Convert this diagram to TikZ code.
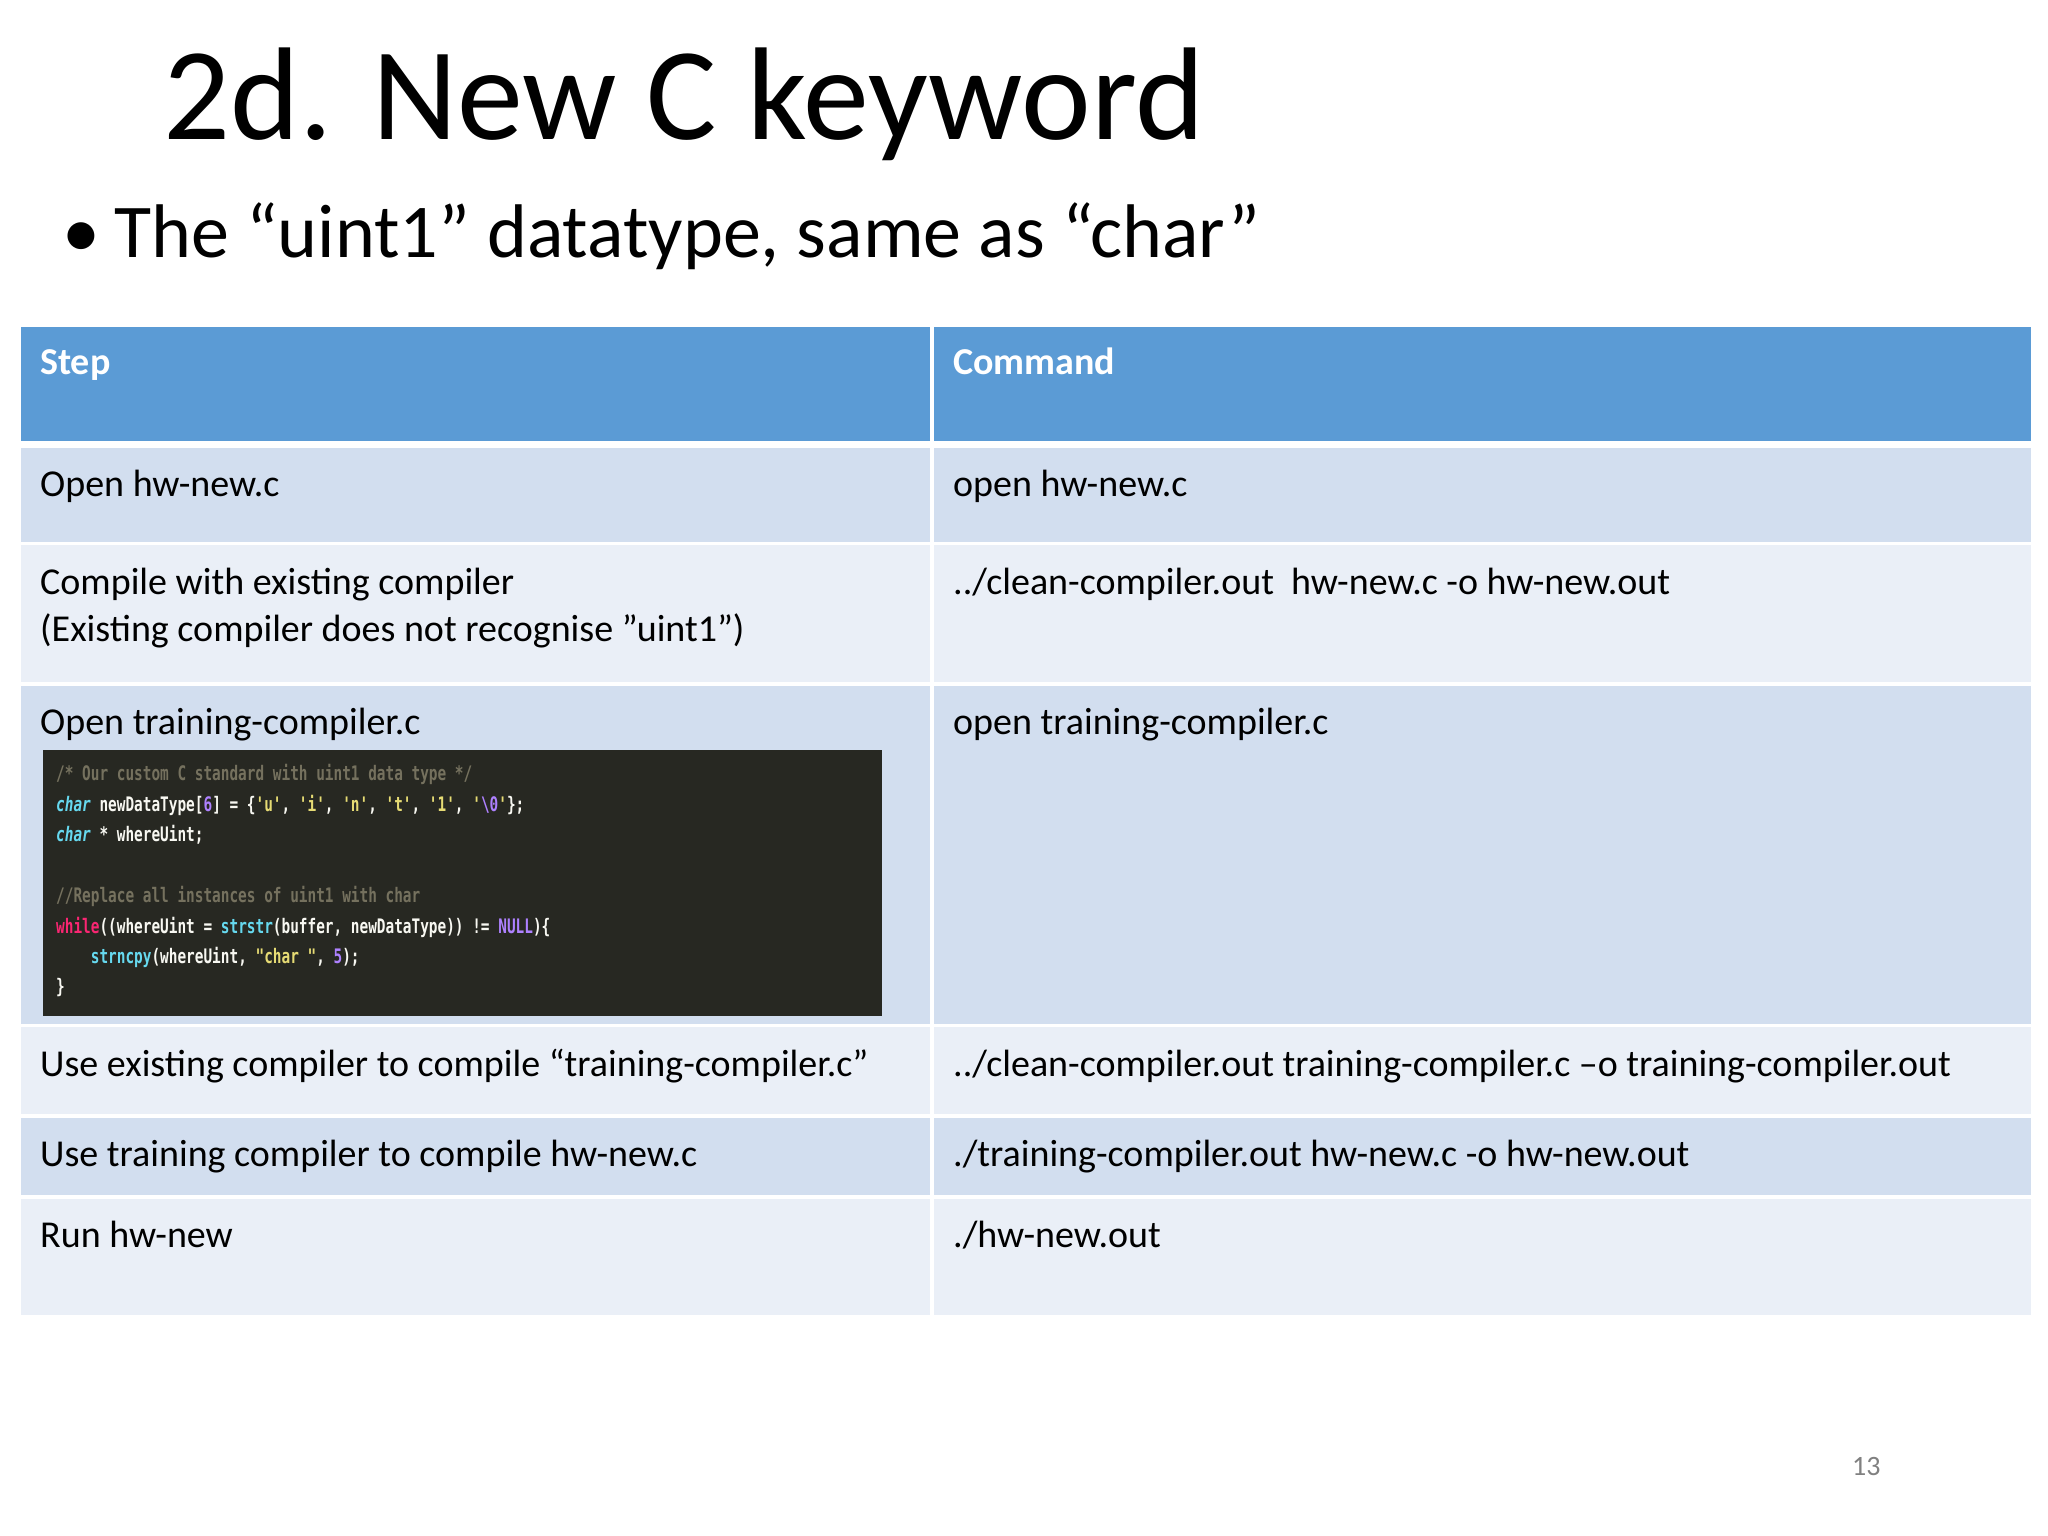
\documentclass[tikz,border=0pt]{standalone}
\usepackage{fontspec}
\setmainfont{Carlito}
\newfontfamily\codefont{DejaVu Sans Mono}
\usepackage{xcolor}
\definecolor{hdr}{HTML}{5B9BD5}
\definecolor{rowA}{HTML}{D2DEEF}
\definecolor{rowB}{HTML}{EAEFF7}
\definecolor{mbg}{HTML}{272822}
\definecolor{mcom}{HTML}{75715E}
\definecolor{mcy}{HTML}{66D9EF}
\definecolor{mpu}{HTML}{AE81FF}
\definecolor{mye}{HTML}{E6DB74}
\definecolor{mpk}{HTML}{F92672}
\definecolor{mwh}{HTML}{F8F8F2}
\def\sq{\char39\relax}
\def\dq{\char34\relax}
\begin{document}
\begin{tikzpicture}[x=1pt,y=-1pt,
  cell/.style={anchor=base west,inner sep=0pt,font=\fontsize{38}{46}\selectfont},
  hcell/.style={cell,text=white,font=\fontsize{38}{46}\selectfont\bfseries},
  code/.style={anchor=base west,inner sep=0pt,text=mwh,font=\codefont\fontsize{20}{24}\selectfont\bfseries}]
\useasboundingbox (0,0) rectangle (2048,1536);
\fill[white] (0,0) rectangle (2048,1536);
% title
\node[anchor=base west,inner sep=0pt,font=\fontsize{132}{150}\selectfont] (title) at (163,140) {2d. New C keyword};
\node[anchor=base west,inner sep=0pt,font=\fontsize{76}{90}\selectfont] (bul) at (62,257) {•};
\node[anchor=base west,inner sep=0pt,font=\fontsize{76}{90}\selectfont] (sub) at (114,257) {The “uint1” datatype, same as “char”};
% table backgrounds
\fill[hdr] (21,327) rectangle (930,441);
\fill[hdr] (934,327) rectangle (2031,441);
\foreach \ya/\yb/\c in {448/542/rowA,545/682/rowB,686/1024/rowA,1027/1114/rowB,1118/1195/rowA,1199/1315/rowB}{
  \fill[\c] (21,\ya) rectangle (930,\yb);
  \fill[\c] (934,\ya) rectangle (2031,\yb);
}
% header
\node[hcell] (h1) at (40,374) {Step};
\node[hcell] (h2) at (953,374) {Command};
% rows
\node[cell] (s1) at (40,496) {Open hw-new.c};
\node[cell] (c1) at (953,496) {open hw-new.c};
\node[cell] (s2a) at (40,594) {Compile with existing compiler};
\node[cell] (s2b) at (40,641) {(Existing compiler does not recognise ”uint1”)};
\node[cell] (c2) at (953,594) {../clean-compiler.out\ \ hw-new.c -o hw-new.out};
\node[cell] (s3) at (40,734) {Open training-compiler.c};
\node[cell] (c3) at (953,734) {open training-compiler.c};
\node[cell] (s4) at (40,1076) {Use existing compiler to compile “training-compiler.c”};
\node[cell] (c4) at (953,1076) {../clean-compiler.out training-compiler.c –o training-compiler.out};
\node[cell] (s5) at (40,1166) {Use training compiler to compile hw-new.c};
\node[cell] (c5) at (953,1166) {./training-compiler.out hw-new.c -o hw-new.out};
\node[cell] (s6) at (40,1247) {Run hw-new};
\node[cell] (c6) at (953,1247) {./hw-new.out};
% code block
\fill[mbg] (43,750) rectangle (882,1016);
\node[code] (l1) at (56,780) {\scalebox{0.72}[1]{\textcolor{mcom}{/* Our custom C standard with uint1 data type */}}};
\node[code] (l2) at (56,811) {\scalebox{0.72}[1]{\textcolor{mcy}{\itshape char} newDataType[\textcolor{mpu}{6}] = \{\textcolor{mye}{\sq u\sq}, \textcolor{mye}{\sq i\sq}, \textcolor{mye}{\sq n\sq}, \textcolor{mye}{\sq t\sq}, \textcolor{mye}{\sq 1\sq}, \textcolor{mye}{\sq}\textcolor{mpu}{\textbackslash 0}\textcolor{mye}{\sq}\};}};
\node[code] (l3) at (56,841) {\scalebox{0.72}[1]{\textcolor{mcy}{\itshape char} * whereUint;}};
\node[code] (l5) at (56,902) {\scalebox{0.72}[1]{\textcolor{mcom}{//Replace all instances of uint1 with char}}};
\node[code] (l6) at (56,933) {\scalebox{0.72}[1]{\textcolor{mpk}{while}((whereUint = \textcolor{mcy}{strstr}(buffer, newDataType)) != \textcolor{mpu}{NULL})\{}};
\node[code] (l7) at (56,963) {\scalebox{0.72}[1]{\ \ \ \ \textcolor{mcy}{strncpy}(whereUint, \textcolor{mye}{\dq char \dq}, \textcolor{mpu}{5});}};
\node[code] (l8) at (56,993) {\scalebox{0.72}[1]{\}}};
% page number
\node[anchor=base west,inner sep=0pt,text=gray,font=\fontsize{28}{34}\selectfont] (pn) at (1852,1475) {13};
\end{tikzpicture}
\end{document}
